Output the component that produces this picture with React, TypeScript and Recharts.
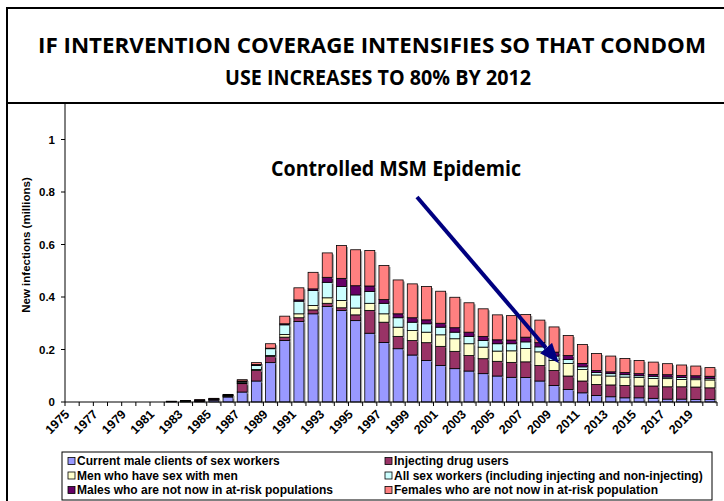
import React from 'react'
import { BarChart, Bar, XAxis, YAxis } from 'recharts'

const years = [
  '1975', '1976', '1977', '1978', '1979', '1980', '1981', '1982', '1983', '1984',
  '1985', '1986', '1987', '1988', '1989', '1990', '1991', '1992', '1993', '1994',
  '1995', '1996', '1997', '1998', '1999', '2000', '2001', '2002', '2003', '2004',
  '2005', '2006', '2007', '2008', '2009', '2010', '2011', '2012', '2013', '2014',
  '2015', '2016', '2017', '2018', '2019', '2020',
]

// new infections, millions, 1975..2020
const clients = [
  0, 0, 0, 0, 0, 0, 0, 0.001, 0.001, 0.002,
  0.007, 0.019, 0.038, 0.08, 0.15, 0.234, 0.307, 0.336, 0.364, 0.349,
  0.31, 0.262, 0.227, 0.203, 0.179, 0.158, 0.139, 0.127, 0.118, 0.108,
  0.099, 0.094, 0.093, 0.08, 0.063, 0.048, 0.035, 0.025, 0.02, 0.016,
  0.016, 0.014, 0.011, 0.011, 0.01, 0.01,
]
const idu = [
  0, 0, 0, 0, 0, 0, 0, 0.001, 0.001, 0.002,
  0.002, 0.003, 0.032, 0.04, 0.024, 0.013, 0.014, 0.015, 0.012, 0.01,
  0.022, 0.087, 0.077, 0.047, 0.055, 0.068, 0.073, 0.066, 0.059, 0.057,
  0.056, 0.057, 0.06, 0.059, 0.057, 0.051, 0.045, 0.042, 0.045, 0.047,
  0.045, 0.047, 0.047, 0.047, 0.047, 0.044,
]
const msm = [
  0, 0, 0, 0, 0, 0, 0, 0, 0.001, 0.001,
  0.001, 0.001, 0.003, 0.004, 0.003, 0.01, 0.015, 0.017, 0.021, 0.028,
  0.026, 0.027, 0.032, 0.035, 0.038, 0.04, 0.044, 0.048, 0.045, 0.044,
  0.039, 0.044, 0.051, 0.052, 0.038, 0.048, 0.044, 0.036, 0.034, 0.032,
  0.032, 0.029, 0.031, 0.028, 0.028, 0.03,
]
const sexWorkers = [
  0, 0, 0, 0, 0, 0, 0, 0, 0.001, 0.001,
  0.001, 0.001, 0.004, 0.015, 0.026, 0.037, 0.048, 0.057, 0.059, 0.053,
  0.05, 0.045, 0.04, 0.036, 0.032, 0.032, 0.029, 0.025, 0.028, 0.025,
  0.028, 0.027, 0.025, 0.019, 0.017, 0.015, 0.01, 0.009, 0.009, 0.009,
  0.007, 0.008, 0.006, 0.007, 0.006, 0.006,
]
const malesNotAtRisk = [
  0, 0, 0, 0, 0, 0, 0, 0.001, 0.001, 0.002,
  0.002, 0.003, 0.003, 0.004, 0.002, 0.004, 0.005, 0.006, 0.019, 0.031,
  0.035, 0.021, 0.014, 0.015, 0.017, 0.015, 0.015, 0.017, 0.016, 0.016,
  0.015, 0.014, 0.018, 0.016, 0.015, 0.015, 0.013, 0.008, 0.007, 0.008,
  0.008, 0.007, 0.009, 0.008, 0.009, 0.008,
]
const femalesNotAtRisk = [
  0, 0, 0, 0, 0, 0, 0, 0, 0.001, 0.001,
  0.001, 0.002, 0.005, 0.007, 0.017, 0.029, 0.046, 0.063, 0.093, 0.125,
  0.137, 0.135, 0.13, 0.129, 0.129, 0.127, 0.122, 0.116, 0.112, 0.105,
  0.095, 0.093, 0.086, 0.086, 0.096, 0.076, 0.072, 0.065, 0.06, 0.054,
  0.05, 0.047, 0.042, 0.04, 0.037, 0.033,
]

const yTicks = [0, 0.2, 0.4, 0.6, 0.8, 1]

const series = [
  { key: 'clients', name: 'Current male clients of sex workers', color: '#9999FF' },
  { key: 'idu', name: 'Injecting drug users', color: '#993366' },
  { key: 'msm', name: 'Men who have sex with men', color: '#FFFFCC' },
  { key: 'sexWorkers', name: 'All sex workers (including injecting and non-injecting)', color: '#CCFFFF' },
  { key: 'malesNotAtRisk', name: 'Males who are not now in at-risk populations', color: '#660066' },
  { key: 'femalesNotAtRisk', name: 'Females who are not now in at-risk population', color: '#FF8080' },
]

const data = years.map((year, i) => ({
  year,
  clients: clients[i],
  idu: idu[i],
  msm: msm[i],
  sexWorkers: sexWorkers[i],
  malesNotAtRisk: malesNotAtRisk[i],
  femalesNotAtRisk: femalesNotAtRisk[i],
}))

const FONT = '"Liberation Sans", Arial, sans-serif'
const TITLE_FONT = '"Open Sans", Lato, sans-serif'

function ShadowBar(props: any) {
  const { x, y, width, height, fill } = props
  if (!height || height <= 0) return null
  return (
    <g>
      <rect x={x + width} y={y + 1.5} width={1.6} height={height} fill="#a0a0a0" />
      <rect x={x} y={y} width={width} height={height} fill={fill} stroke="#000" strokeWidth={0.8} />
    </g>
  )
}

function YearTick(props: any) {
  const { x, y, payload, index } = props
  const half = payload && payload.offset ? payload.offset : 652 / 46 / 2
  const lx = x - 2
  const ly = y + 13
  return (
    <g>
      <line x1={x - half} y1={y} x2={x - half} y2={y + 4} stroke="#000" />
      {index === years.length - 1 && (
        <line x1={x + half} y1={y} x2={x + half} y2={y + 4} stroke="#000" />
      )}
      {index % 2 === 0 && (
        <text
          x={lx}
          y={ly}
          transform={`rotate(-45, ${lx}, ${ly})`}
          textAnchor="end"
          fontFamily={FONT}
          fontWeight="bold"
          fontSize={12.5}
          fill="#000"
        >
          {payload.value}
        </text>
      )}
    </g>
  )
}

export default function App() {
  return (
    <div style={{ position: 'absolute', left: 0, top: 0, width: 724, height: 501, background: '#fff' }}>
      <BarChart
        width={724}
        height={501}
        data={data}
        margin={{ top: 87, right: 7, bottom: 54, left: 7 }}
        barCategoryGap="15%"
        style={{ fontFamily: FONT }}
      >
        <XAxis
          dataKey="year"
          interval={0}
          tickSize={0}
          tickMargin={0}
          tickLine={false}
          height={45}
          axisLine={{ stroke: '#000' }}
          tick={<YearTick />}
        />
        <YAxis
          domain={[0, 1.2]}
          ticks={yTicks}
          width={58}
          tickSize={4}
          tickMargin={6}
          axisLine={{ stroke: '#000' }}
          tickLine={{ stroke: '#000' }}
          tick={{ fill: '#000', fontSize: 11.5, fontWeight: 'bold', fontFamily: FONT }}
        />
        <YAxis
          yAxisId="frame"
          orientation="right"
          width={0}
          domain={[0, 1]}
          tick={false}
          tickLine={false}
          axisLine={{ stroke: '#b0b0b0' }}
        />
        {series.map((s) => (
          <Bar
            key={s.key}
            dataKey={s.key}
            name={s.name}
            stackId="a"
            fill={s.color}
            shape={<ShadowBar />}
            isAnimationActive={false}
          />
        ))}
      </BarChart>

      <svg
        width={724}
        height={501}
        style={{ position: 'absolute', left: 0, top: 0, pointerEvents: 'none' }}
      >
        <defs>
          <marker id="head" markerWidth="5" markerHeight="4" refX="0" refY="2" orient="auto" markerUnits="strokeWidth">
            <path d="M0,0 L5,2 L0,4 Z" fill="#000080" />
          </marker>
        </defs>
        {/* title box */}
        <rect x={7} y={8} width={730} height={95} fill="#fff" stroke="#000" strokeWidth={2} />
        <line x1={7} y1={103} x2={7} y2={501} stroke="#000" strokeWidth={2} />
        <text x={372} y={53} textAnchor="middle" fontFamily={TITLE_FONT} fontWeight="bold" fontSize={21} textLength={668} lengthAdjust="spacingAndGlyphs">
          IF INTERVENTION COVERAGE INTENSIFIES SO THAT CONDOM
        </text>
        <text x={378} y={85} textAnchor="middle" fontFamily={TITLE_FONT} fontWeight="bold" fontSize={21} textLength={306} lengthAdjust="spacingAndGlyphs">
          USE INCREASES TO 80% BY 2012
        </text>

        {/* y axis title */}
        <text
          x={30}
          y={245}
          transform="rotate(-90, 30, 245)"
          textAnchor="middle"
          fontFamily={FONT}
          fontWeight="bold"
          fontSize={11.5}
        >
          New infections (millions)
        </text>

        {/* annotation */}
        <text x={396} y={176} textAnchor="middle" fontFamily={TITLE_FONT} fontWeight="bold" fontSize={21} textLength={250} lengthAdjust="spacingAndGlyphs">
          Controlled MSM Epidemic
        </text>
        <line x1={417} y1={197} x2={546} y2={348} stroke="#000080" strokeWidth={4} markerEnd="url(#head)" />

        {/* legend */}
        <rect x={62} y={452} width={650} height={48} fill="#fff" stroke="#000" strokeWidth={1} />
        {series.map((s, k) => {
          const sx = k % 2 === 0 ? 68 : 385
          const cy = 461 + Math.floor(k / 2) * 14.5
          return (
            <g key={s.key}>
              <rect x={sx} y={cy - 3.5} width={7} height={7} fill={s.color} stroke="#000" strokeWidth={0.8} />
              <text x={sx + 9} y={cy + 4.2} fontFamily={FONT} fontWeight="bold" fontSize={12}>
                {s.name}
              </text>
            </g>
          )
        })}
      </svg>
    </div>
  )
}
